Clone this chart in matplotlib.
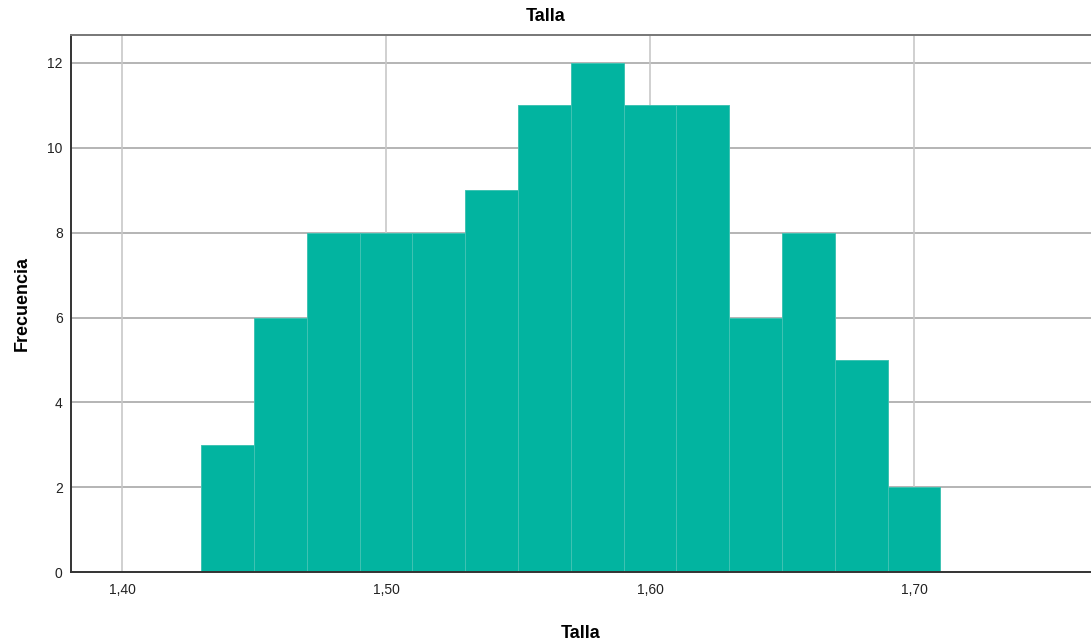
import matplotlib
matplotlib.use('Agg')
import matplotlib.pyplot as plt
import numpy as np

# histogram bins (Talla) and their counts
bin_edges = [1.43, 1.45, 1.47, 1.49, 1.51, 1.53, 1.55, 1.57,
             1.59, 1.61, 1.63, 1.65, 1.67, 1.69, 1.71]
counts = [3, 6, 8, 8, 8, 9, 11, 12, 11, 11, 6, 8, 5, 2]
x_ticks = [1.40, 1.50, 1.60, 1.70]
x_labels = ['1,40', '1,50', '1,60', '1,70']
y_ticks = [0, 2, 4, 6, 8, 10, 12]

plt.rcParams['font.family'] = ['Liberation Sans', 'DejaVu Sans']

fig = plt.figure(figsize=(10.91, 6.41), dpi=100)
ax = fig.add_axes([0.0651, 0.1076, 0.9349, 0.8378])

edges = np.array(bin_edges)
widths = np.diff(edges)
ax.bar(edges[:-1], counts, width=widths, align='edge', color='#02B4A0',
       edgecolor='#3fc3b3', linewidth=0.7, zorder=2)

# grid behind bars
for yt in y_ticks[1:]:
    ax.axhline(yt, color='#a8a8a8', linewidth=1.2, zorder=1)
for xt in x_ticks:
    ax.axvline(xt, color='#c8c8c8', linewidth=1.2, zorder=1)

ax.set_xlim(1.3807, 1.767)
ax.set_ylim(0, 12.66)
ax.set_xticks(x_ticks)
ax.set_xticklabels(x_labels)
ax.set_yticks(y_ticks)
ax.tick_params(length=0, labelsize=10, colors='#222222', pad=8)
ax.tick_params(axis='y', pad=6)

for side in ['left', 'bottom']:
    ax.spines[side].set_color('#333333')
    ax.spines[side].set_linewidth(1.4)
ax.spines['top'].set_color('#777777')
ax.spines['top'].set_linewidth(1.4)
ax.spines['right'].set_visible(False)

fig.suptitle('Talla', x=0.5, y=0.988, fontsize=13, fontweight='bold')
ax.set_xlabel('Talla', fontsize=13, fontweight='bold', labelpad=20)
ax.set_ylabel('Frecuencia', fontsize=13, fontweight='bold', labelpad=12)

fig.savefig('out.png', dpi=100)
